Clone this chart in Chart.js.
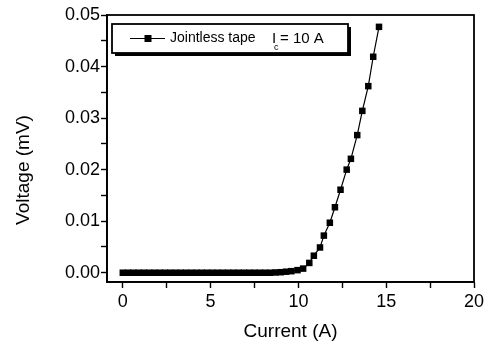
<!DOCTYPE html>
<html><head><meta charset="utf-8">
<script src="https://cdn.jsdelivr.net/npm/chart.js@4.4.1/dist/chart.umd.min.js"></script>
<style>html,body{margin:0;padding:0;background:#fff}#wrap{width:493px;height:352px}</style>
</head><body><div id="wrap"><canvas id="c" width="493" height="352"></canvas></div>
<script>
const currents = [0,0.3,0.6,0.9,1.2,1.5,1.8,2.1,2.4,2.7,3.0,3.3,3.6,3.9,4.2,4.5,4.8,5.1,5.4,5.7,6.0,6.3,6.6,6.9,7.2,7.5,7.8,8.1,8.4,8.7,9.0,9.3,9.6,9.95,10.27,10.62,10.88,11.23,11.45,11.79,12.08,12.40,12.75,12.99,13.35,13.64,13.98,14.26,14.59];
const voltages = [0,0,0,0,0,0,0,0,0,0,0,0,0,0,0,0,0,0,0,0,0,0,0,0,0,0,0,0,0,0.00005,0.0001,0.0002,0.0003,0.0005,0.0008,0.0019,0.0033,0.0049,0.0072,0.0097,0.0127,0.0161,0.0200,0.0221,0.0267,0.0314,0.0362,0.0419,0.0477];
const xTicks = [0,2.5,5,7.5,10,12.5,15,17.5,20];
const xLabels = ['0','','5','','10','','15','','20'];
const yTicks = [0,0.005,0.01,0.015,0.02,0.025,0.03,0.035,0.04,0.045,0.05];
const yLabels = ['0.00','','0.01','','0.02','','0.03','','0.04','','0.05'];
const seriesName = 'Jointless tape';
const legendNote = ['I', 'c', '= 10 A'];
const xTitle = 'Current (A)';
const yTitle = 'Voltage (mV)';

const FONT = '"Liberation Sans", Arial, sans-serif';

const framePlugin = {
  id: 'frame',
  afterDraw(chart) {
    const {ctx, chartArea: a} = chart;
    ctx.save();
    ctx.strokeStyle = '#000';
    ctx.lineWidth = 1.8;
    ctx.strokeRect(a.left, a.top, a.right - a.left, a.bottom - a.top);
    // axis titles
    ctx.fillStyle = '#000';
    ctx.font = '19px ' + FONT;
    ctx.textAlign = 'center';
    ctx.textBaseline = 'middle';
    ctx.fillText(xTitle, (a.left + a.right) / 2, 332);
    ctx.save();
    ctx.translate(24, 170);
    ctx.rotate(-Math.PI / 2);
    ctx.fillText(yTitle, 0, 0);
    ctx.restore();
    // legend
    const bx = a.left + 5, by = a.top + 9, bw = 236, bh = 29;
    ctx.fillStyle = '#000';
    ctx.fillRect(bx + 3, by + 3, bw, bh);
    ctx.fillStyle = '#fff';
    ctx.fillRect(bx, by, bw, bh);
    ctx.lineWidth = 1.8;
    ctx.strokeRect(bx, by, bw, bh);
    const ly = by + bh / 2;
    ctx.lineWidth = 1.2;
    ctx.beginPath(); ctx.moveTo(bx + 18, ly); ctx.lineTo(bx + 53, ly); ctx.stroke();
    ctx.fillStyle = '#000';
    ctx.fillRect(bx + 36 - 3.5, ly - 3.5, 7, 7);
    ctx.font = '14px ' + FONT;
    ctx.textAlign = 'left';
    ctx.fillText(seriesName, bx + 58, ly);
    ctx.font = '15px ' + FONT;
    ctx.fillText(legendNote[0], bx + 160, ly);
    ctx.font = '9px ' + FONT;
    ctx.fillText(legendNote[1], bx + 162, ly + 9);
    ctx.font = '15px ' + FONT;
    ctx.fillText(legendNote[2], bx + 168, ly);
    ctx.restore();
  }
};

new Chart(document.getElementById('c'), {
  type: 'scatter',
  data: {
    datasets: [{
      label: seriesName,
      data: currents.map((x, i) => ({x: x, y: voltages[i]})),
      showLine: true,
      borderColor: '#000',
      backgroundColor: '#000',
      borderWidth: 1.2,
      pointStyle: 'rect',
      pointRadius: 4.6,
      pointHoverRadius: 4.6,
      pointBorderWidth: 0
    }]
  },
  options: {
    responsive: false,
    animation: false,
    events: [],
    layout: {padding: {left: 0, right: 19, top: 15, bottom: 0}},
    plugins: {legend: {display: false}, tooltip: {enabled: false}},
    scales: {
      x: {
        type: 'linear', min: -0.9, max: 20,
        afterBuildTicks: s => { s.ticks = xTicks.map(v => ({value: v})); },
        afterFit: s => { s.height = 70; },
        grid: {drawOnChartArea: false, color: '#000', tickLength: 6, tickWidth: 1.4, tickColor: '#000'},
        border: {display: true, color: '#000', width: 1.8},
        ticks: {
          color: '#000', font: {family: FONT, size: 18}, padding: 3, maxRotation: 0, autoSkip: false,
          callback: (v, i) => xLabels[i]
        }
      },
      y: {
        type: 'linear', min: -0.0018, max: 0.05,
        afterBuildTicks: s => { s.ticks = yTicks.map(v => ({value: v})); },
        afterFit: s => { s.width = 107; },
        grid: {drawOnChartArea: false, color: '#000', tickLength: 6, tickWidth: 1.4, tickColor: '#000'},
        border: {display: true, color: '#000', width: 1.8},
        ticks: {
          color: '#000', font: {family: FONT, size: 18}, padding: 1, autoSkip: false,
          callback: (v, i) => yLabels[i]
        }
      }
    }
  },
  plugins: [framePlugin]
});
</script>
</body></html>
